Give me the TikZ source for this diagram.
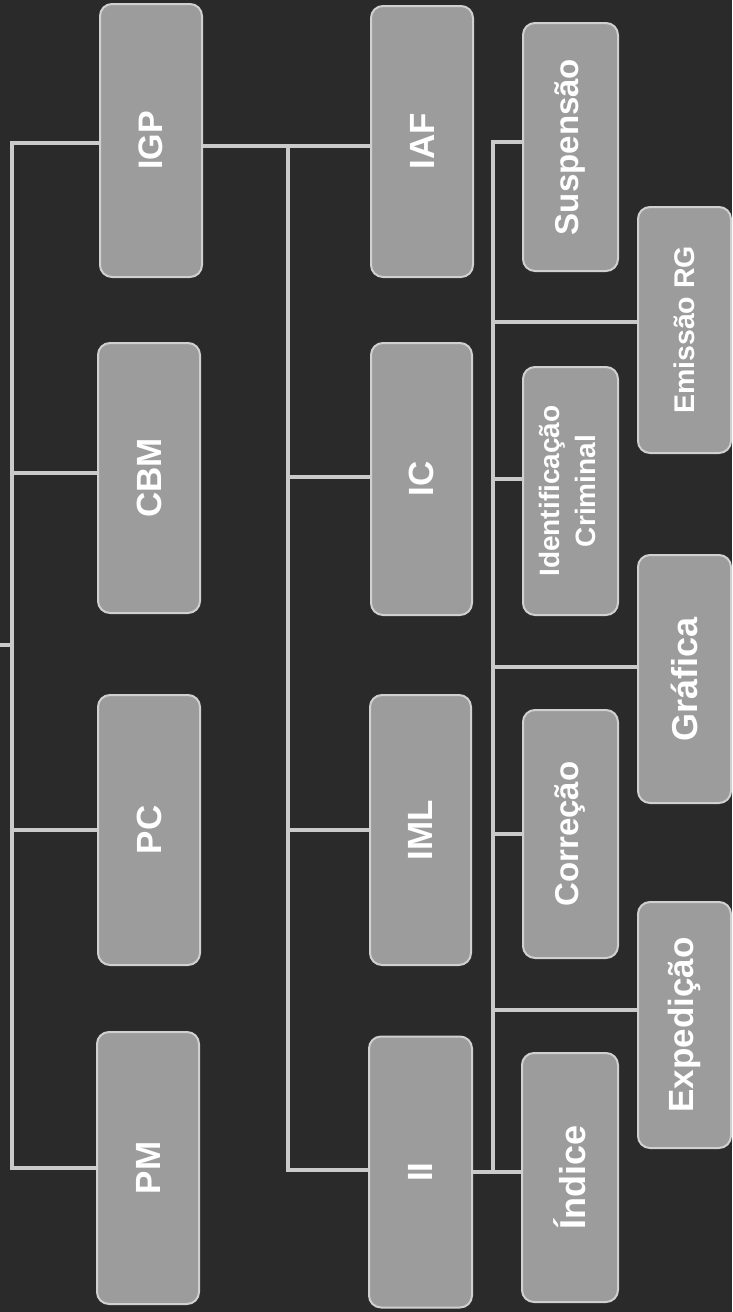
\documentclass[tikz,border=0pt]{standalone}
\usepackage{fontspec}
\setmainfont{Liberation Sans}
\usepackage{graphicx}
\definecolor{bg}{HTML}{2A2A2A}
\definecolor{boxfill}{HTML}{9C9C9C}
\definecolor{boxline}{HTML}{D0D0D0}
\definecolor{conn}{HTML}{CACACA}
\newcommand{\vtext}[2]{\rotatebox{90}{\fontsize{#1}{#1}\selectfont #2}}
\newcommand{\vtwo}[3]{\rotatebox{90}{\fontsize{#1}{36}\selectfont\begin{tabular}{@{}c@{}}#2\\#3\end{tabular}}}
\tikzset{
  orgbox/.style={draw=boxline, line width=2pt, fill=boxfill, rounded corners=12pt,
    inner sep=0pt, text=white, font=\bfseries},
  link/.style={draw=conn, line width=4pt},
}
\begin{document}
\begin{tikzpicture}[x=1pt,y=-1pt]
\fill[bg] (0,0) rectangle (732,1312);
\useasboundingbox (0,0) rectangle (732,1312);
% level 1
\node[orgbox, minimum width=102pt, minimum height=273pt] (igp) at (151,140.5) {\vtext{34}{IGP}};
\node[orgbox, minimum width=102pt, minimum height=270pt] (cbm) at (149,478) {\vtext{35}{CBM}};
\node[orgbox, minimum width=102pt, minimum height=270pt] (pc) at (149,830) {\vtext{35}{PC}};
\node[orgbox, minimum width=102pt, minimum height=272pt] (pm) at (148,1168) {\vtext{35}{PM}};
% level 2
\node[orgbox, minimum width=102pt, minimum height=271pt] (iaf) at (422,141.5) {\vtext{35}{IAF}};
\node[orgbox, minimum width=101pt, minimum height=272pt] (ic) at (421.5,479) {\vtext{35}{IC}};
\node[orgbox, minimum width=101pt, minimum height=270pt] (iml) at (420.5,830) {\vtext{35}{IML}};
\node[orgbox, minimum width=103pt, minimum height=271pt] (ii) at (420.5,1172) {\vtext{35}{II}};
% level 3
\node[orgbox, minimum width=95pt, minimum height=248pt] (susp) at (570.5,147) {\vtext{33}{Suspensão}};
\node[orgbox, minimum width=95pt, minimum height=248pt] (ident) at (570.5,491) {\vtwo{28}{Identificação}{Criminal}};
\node[orgbox, minimum width=95pt, minimum height=248pt] (corr) at (570.5,834) {\vtext{33}{Correção}};
\node[orgbox, minimum width=96pt, minimum height=249pt] (indice) at (570,1177.5) {\vtext{36}{Índice}};
\node[orgbox, minimum width=93pt, minimum height=246pt] (emis) at (684.5,330) {\vtext{28.5}{Emissão RG}};
\node[orgbox, minimum width=93pt, minimum height=248pt] (graf) at (684.5,679) {\vtext{36}{Gráfica}};
\node[orgbox, minimum width=93pt, minimum height=246pt] (exped) at (684.5,1025) {\vtext{35}{Expedição}};
% connectors
\coordinate (root) at (0,645);
\draw[link] (root) -- (12,645);
\draw[link] (igp.west|-0,143) -- (12,143) -- (12,1168) -- (pm.west|-0,1168);
\draw[link] (12,473) -- (cbm.west|-0,473);
\draw[link] (12,830) -- (pc.west|-0,830);
\draw[link] (igp.east|-0,146) -- (iaf.west|-0,146);
\draw[link] (288,146) -- (288,1170) -- (ii.west|-0,1170);
\draw[link] (288,477) -- (ic.west|-0,477);
\draw[link] (288,830) -- (iml.west|-0,830);
\draw[link] (ii.east|-0,1172) -- (indice.west|-0,1172);
\draw[link] (493,1172) -- (493,142) -- (susp.west|-0,142);
\draw[link] (493,322) -- (emis.west|-0,322);
\draw[link] (493,479) -- (ident.west|-0,479);
\draw[link] (493,667) -- (graf.west|-0,667);
\draw[link] (493,834) -- (corr.west|-0,834);
\draw[link] (493,1010) -- (exped.west|-0,1010);
\end{tikzpicture}
\end{document}
